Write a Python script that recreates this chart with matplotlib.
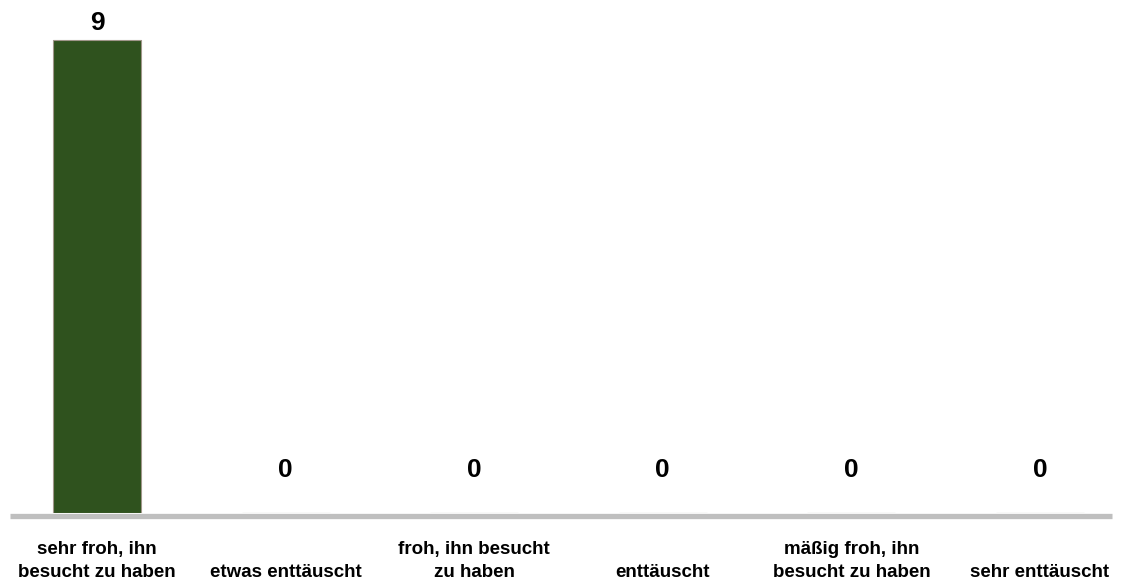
import matplotlib
matplotlib.use("Agg")
import matplotlib.pyplot as plt
import numpy as np

plt.rcParams.update({
    "font.family": ["Liberation Sans", "DejaVu Sans"],
    "font.weight": "bold",
})

categories = [
    "sehr froh, ihn\nbesucht zu haben",
    "etwas enttäuscht",
    "froh, ihn besucht\nzu haben",
    "enttäuscht",
    "mäßig froh, ihn\nbesucht zu haben",
    "sehr enttäuscht",
]
values = [9, 0, 0, 0, 0, 0]

fig = plt.figure(figsize=(11.26, 5.82), dpi=100)
# axes spans pixel x 10..1114, y from 513 (zero) up to 10
ax = fig.add_axes([10 / 1126, (582 - 513) / 582, 1102 / 1126, (513 - 10) / 582])

x = np.arange(len(categories))
ax.bar(x, values, width=0.467, color="#2f521e", edgecolor="#a0968a", linewidth=0.8, zorder=2)

# value labels
for xi, v in zip(x, values):
    off = 0.32 if v > 0 else 0.82
    ax.text(xi, v + off, str(v), ha="center", va="center", fontsize=19, fontweight="bold", color="black")

ax.set_xlim(-0.461, 5.382)
ax.set_ylim(0, 9.57)

for s in ["top", "left", "right"]:
    ax.spines[s].set_visible(False)
ax.spines["bottom"].set_color("#bfbfbf")
ax.spines["bottom"].set_linewidth(3.8)
ax.spines["bottom"].set_capstyle("butt")
ax.spines["bottom"].set_position(("outward", 2.5))

ax.set_yticks([])
ax.set_xticks(x)
labels = [c if "\n" in c else "\n" + c for c in categories]
ax.set_xticklabels(labels, fontsize=13.5, fontweight="bold", linespacing=1.45)
ax.tick_params(axis="x", length=0, pad=18)

fig.savefig("out.png", dpi=100, facecolor="white")
